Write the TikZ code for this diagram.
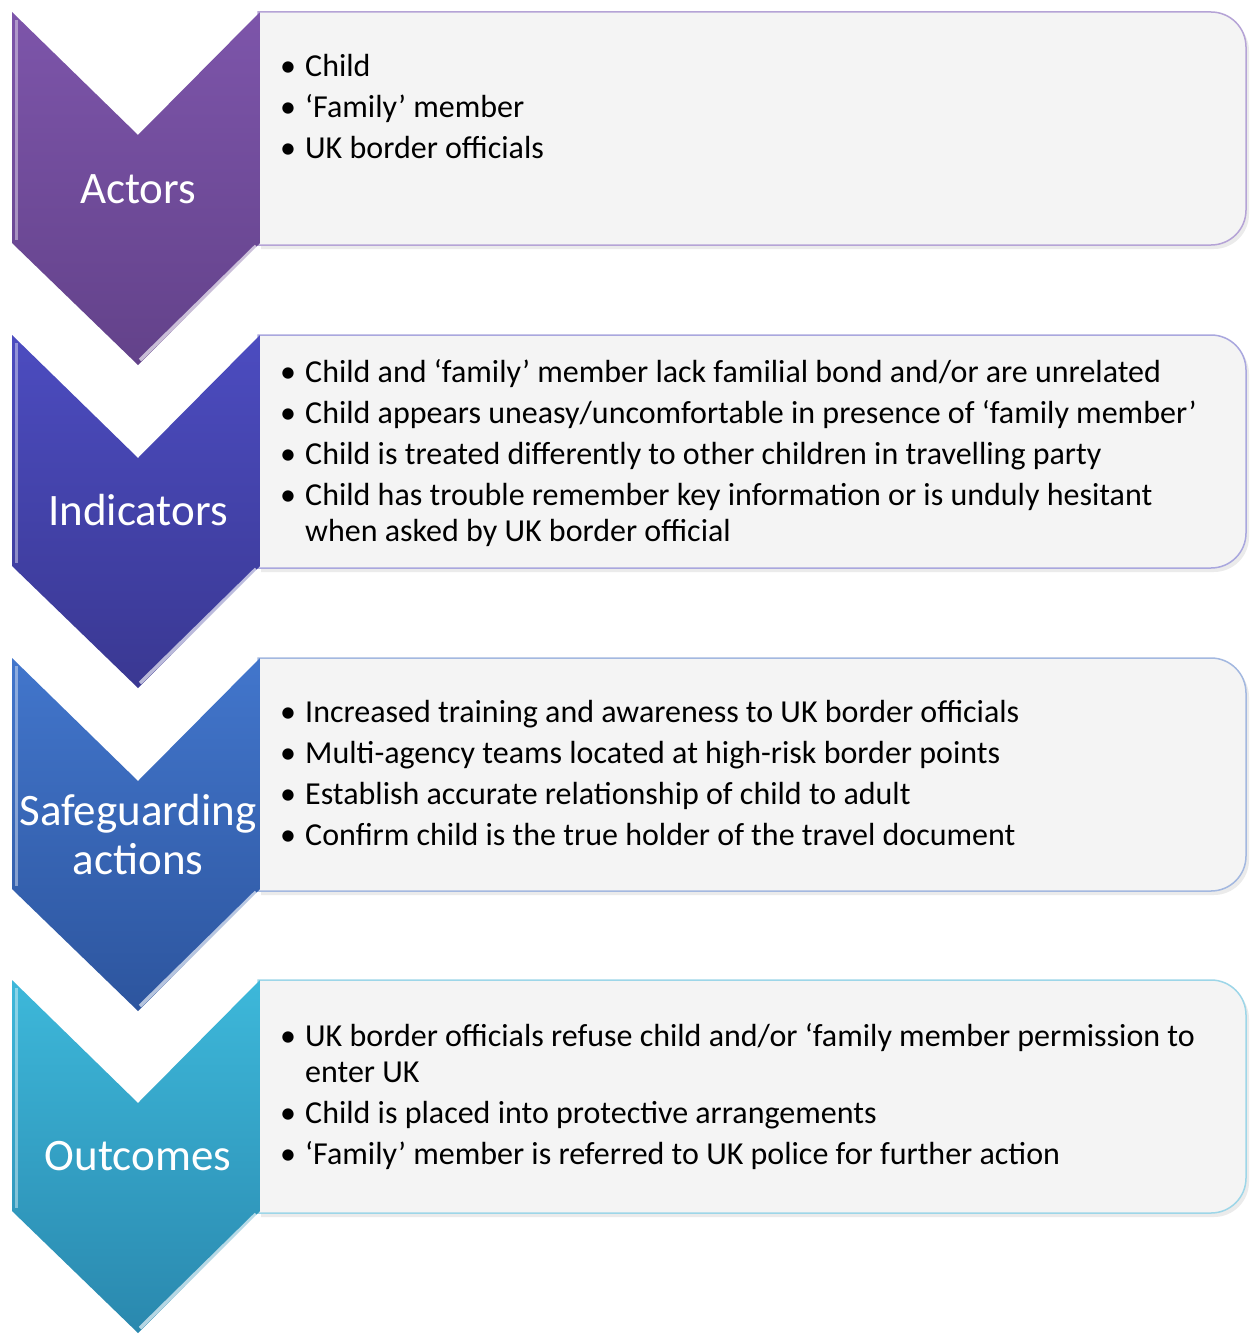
\documentclass[tikz,border=0pt]{standalone}
\usepackage{fontspec}
\setmainfont{Carlito}

\definecolor{actTop}{HTML}{7D55AA}
\definecolor{actBot}{HTML}{63428A}
\definecolor{actLine}{HTML}{B5A3D6}
\definecolor{indTop}{HTML}{4C4CC0}
\definecolor{indBot}{HTML}{3A3892}
\definecolor{indLine}{HTML}{A9A7DE}
\definecolor{safTop}{HTML}{4276CC}
\definecolor{safBot}{HTML}{2D559E}
\definecolor{safLine}{HTML}{A3B8E0}
\definecolor{outTop}{HTML}{3DB8DA}
\definecolor{outBot}{HTML}{2A88AE}
\definecolor{outLine}{HTML}{9DD6E8}
\definecolor{boxGray}{HTML}{F4F4F4}

% chevron: #1 top (px), #2 top colour, #3 bottom colour
\newcommand{\stagechevron}[3]{%
  \shade[top color=#2,bottom color=#3] (12,-#1) -- (138,-#1-123) -- (260,-#1) -- (260,-#1-231) -- (138,-#1-353) -- (12,-#1-231) -- cycle;
  \draw[white,opacity=.4,line width=3pt] (16,-#1-8) -- (16,-#1-228);
  \draw[white,opacity=.65,line width=3.5pt] (256,-#1-234) -- (140,-#1-348);
}
% box: #1 top (px), #2 border colour
\newcommand{\stagebox}[2]{%
  \fill[black,opacity=.08] (261,-#1-4) -- (1214,-#1-4) arc[start angle=90,end angle=0,radius=35] -- (1249,-#1-202) arc[start angle=0,end angle=-90,radius=35] -- (261,-#1-237) -- cycle;
  \filldraw[fill=boxGray,draw=#2,line width=1.5pt] (258,-#1) -- (1211,-#1) arc[start angle=90,end angle=0,radius=35] -- (1246,-#1-198) arc[start angle=0,end angle=-90,radius=35] -- (258,-#1-233) -- cycle;
}
\newcommand{\listfont}{\fontsize{32}{36}\selectfont\setlength{\parskip}{5pt}\raggedright}
\newcommand{\itm}[1]{\par\hangindent=28pt\hangafter=1\noindent\makebox[28pt][l]{\hspace{3pt}\textbullet}#1}

\begin{document}
\begin{tikzpicture}[x=1pt,y=1pt]
\tikzstyle{stage}=[text=white,font=\fontsize{45}{49}\selectfont,align=center,inner sep=0]
\tikzstyle{list}=[anchor=base west,inner sep=0]
\useasboundingbox (0,0) rectangle (1250,-1335);
\fill[white] (0,0) rectangle (1250,-1335);

% actors
\stagebox{12}{actLine}
\stagechevron{12}{actTop}{actBot}
\node[stage,anchor=base] at (138,-203) (actors) {Actors};
\node[list] at (277,-77) (actorlist) {\parbox[t]{960pt}{\listfont
  \itm{Child}
  \itm{‘Family’ member}
  \itm{UK border officials}}};

% indicators
\stagebox{335}{indLine}
\stagechevron{335}{indTop}{indBot}
\node[stage,anchor=base] at (138,-525) (indicators) {Indicators};
\node[list] at (277,-382) (indicatorlist) {\parbox[t]{960pt}{\listfont
  \itm{Child and ‘family’ member lack familial bond and/or are unrelated}
  \itm{Child appears uneasy/uncomfortable in presence of ‘family member’}
  \itm{Child is treated differently to other children in travelling party}
  \itm{Child has trouble remember key information or is unduly hesitant\newline when asked by UK border official}}};

% safeguarding actions
\stagebox{658}{safLine}
\stagechevron{658}{safTop}{safBot}
\node[stage] at (138,-835) (safeguarding) {Safeguarding\\actions};
\node[list] at (277,-722) (safeguardlist) {\parbox[t]{960pt}{\listfont
  \itm{Increased training and awareness to UK border officials}
  \itm{Multi-agency teams located at high-risk border points}
  \itm{Establish accurate relationship of child to adult}
  \itm{Confirm child is the true holder of the travel document}}};

% outcomes
\stagebox{980}{outLine}
\stagechevron{980}{outTop}{outBot}
\node[stage,anchor=base] at (138,-1170) (outcomes) {Outcomes};
\node[list] at (277,-1046) (outcomelist) {\parbox[t]{960pt}{\listfont
  \itm{UK border officials refuse child and/or ‘family member permission to\newline enter UK}
  \itm{Child is placed into protective arrangements}
  \itm{‘Family’ member is referred to UK police for further action}}};
\end{tikzpicture}
\end{document}
